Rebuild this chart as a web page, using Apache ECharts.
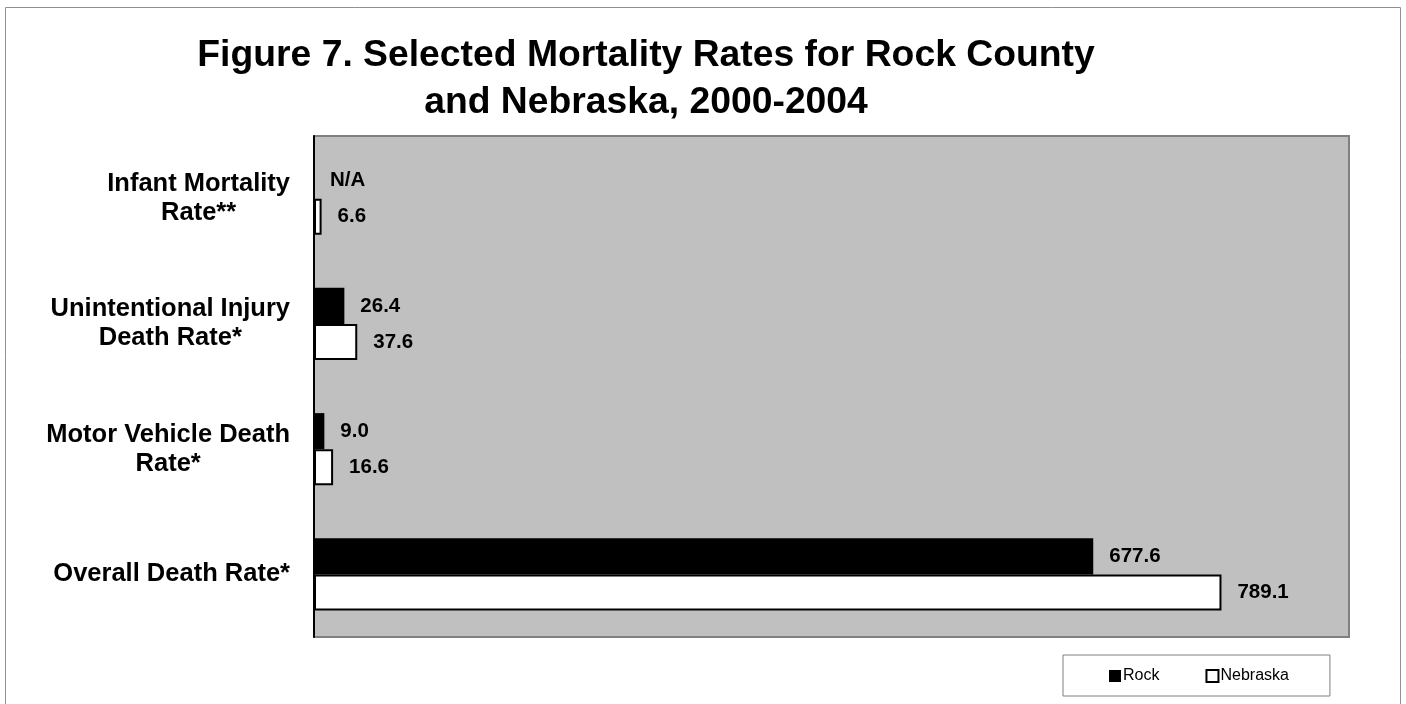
<!DOCTYPE html>
<html>
<head>
<meta charset="utf-8">
<script src="https://cdn.jsdelivr.net/npm/echarts@6/dist/echarts.min.js"></script>
<style>
html,body{margin:0;padding:0;background:#fff;}
#chart{width:1406px;height:704px;}
</style>
</head>
<body>
<div id="chart"></div>
<script>
var titleLines = ['Figure 7. Selected Mortality Rates for Rock County', 'and Nebraska, 2000-2004'];
var categories = ['Infant Mortality\nRate**', 'Unintentional Injury\nDeath Rate*', 'Motor Vehicle Death\nRate*', 'Overall Death Rate*'];
var seriesNames = ['Rock', 'Nebraska'];
var rockValues = [null, 26.4, 9.0, 677.6];
var nebraskaValues = [6.6, 37.6, 16.6, 789.1];
var missingLabel = 'N/A';
var axisMax = 900;

var FONT = '"Liberation Sans", Arial, sans-serif';

function toData(arr) {
  return arr.map(function (v) {
    if (v === null) {
      return { value: 0, label: { formatter: missingLabel } };
    }
    return v;
  });
}

var labelStyle = {
  show: true,
  position: 'right',
  distance: 16,
  fontFamily: FONT,
  fontSize: 20.5,
  fontWeight: 'bold',
  color: '#000',
  formatter: function (p) { return Number(p.value).toFixed(1); }
};

var chart = echarts.init(document.getElementById('chart'), null, { renderer: 'canvas' });
chart.setOption({
  animation: false,
  backgroundColor: '#fff',
  graphic: [{
    type: 'rect',
    z: -10, silent: true,
    shape: { x: 5.5, y: 7.5, width: 1395, height: 730 },
    style: { fill: 'none', stroke: '#909090', lineWidth: 1 }
  }],
  title: {
    text: titleLines.join('\n'),
    left: 641,
    top: 27,
    textAlign: 'center',
    textStyle: {
      fontFamily: FONT,
      fontSize: 37.3,
      fontWeight: 'bold',
      color: '#000',
      lineHeight: 47
    }
  },
  legend: {
    data: [
      { name: 'Rock', itemStyle: { color: '#000', borderColor: '#000', borderWidth: 0 } },
      { name: 'Nebraska', itemStyle: { color: '#fff', borderColor: '#000', borderWidth: 2 } }
    ],
    left: 1063,
    top: 655,
    orient: 'horizontal',
    icon: 'rect',
    itemWidth: 12,
    itemHeight: 12,
    itemGap: 46,
    padding: [13, 41, 12, 46],
    backgroundColor: '#fff',
    borderColor: '#808080',
    borderWidth: 1,
    borderRadius: 0,
    textStyle: { fontFamily: FONT, fontSize: 16, color: '#000', padding: [0, 0, 0, -3] }
  },
  grid: {
    left: 314,
    top: 136,
    right: 57,
    bottom: 67,
    show: true,
    backgroundColor: '#C0C0C0',
    borderColor: '#808080',
    borderWidth: 2,
    containLabel: false
  },
  xAxis: {
    type: 'value',
    min: 0,
    max: axisMax,
    axisLine: { show: false },
    axisTick: { show: false },
    axisLabel: { show: false },
    splitLine: { show: false }
  },
  yAxis: {
    type: 'category',
    data: categories,
    inverse: true,
    axisLine: { show: true, onZero: false, lineStyle: { color: '#000', width: 2 } },
    axisTick: { show: false },
    axisLabel: {
      margin: 24,
      align: 'right',
      formatter: function (v) {
        return v.split('\n').map(function (s) { return '{c|' + s + '}'; }).join('\n');
      },
      rich: {
        c: {
          align: 'center',
          fontFamily: FONT,
          fontSize: 25.5,
          fontWeight: 'bold',
          color: '#000',
          lineHeight: 29
        }
      }
    },
    splitLine: { show: false }
  },
  series: [
    {
      name: seriesNames[0],
      type: 'bar',
      data: toData(rockValues),
      barGap: '0%',
      barCategoryGap: '42.5%',
      itemStyle: { color: '#000', borderColor: '#000', borderWidth: 0 },
      label: labelStyle
    },
    {
      name: seriesNames[1],
      type: 'bar',
      data: toData(nebraskaValues),
      barGap: '0%',
      barCategoryGap: '42.5%',
      itemStyle: { color: '#fff', borderColor: '#000', borderWidth: 2 },
      label: labelStyle
    }
  ]
});
</script>
</body>
</html>
